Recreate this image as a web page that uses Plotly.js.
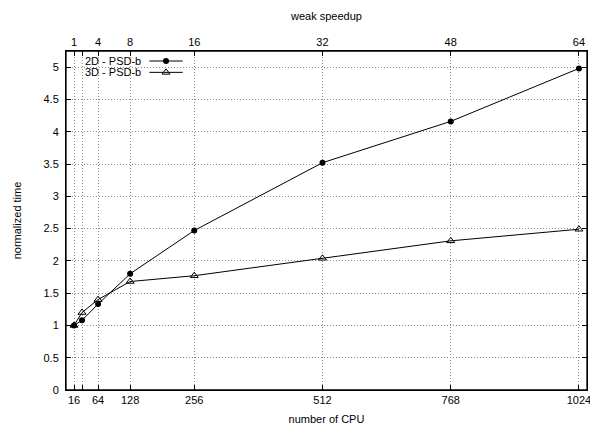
<!DOCTYPE html>
<html>
<head>
<meta charset="utf-8">
<script src="https://cdn.plot.ly/plotly-3.0.1.min.js"></script>
<style>html,body{margin:0;padding:0;background:#fff}#chart{width:590px;height:427px}</style>
</head>
<body>
<div id="chart"></div>
<script>
// Data
const cpus = [16, 32, 64, 128, 256, 512, 768, 1024];
const time2D = [1.0, 1.08, 1.33, 1.80, 2.47, 3.52, 4.16, 4.98];
const time3D = [1.0, 1.20, 1.40, 1.68, 1.77, 2.04, 2.31, 2.49];
const seriesNames = ['2D - PSD-b', '3D - PSD-b'];
const bottomTickVals = [16, 32, 64, 128, 256, 512, 768, 1024];
const bottomTickText = ['16', '', '64', '128', '256', '512', '768', '1024'];
const topTickText = ['1', '', '4', '8', '16', '32', '48', '64'];
const yTickVals = [0, 0.5, 1, 1.5, 2, 2.5, 3, 3.5, 4, 4.5, 5];

const font = {family: 'Liberation Sans, Arial, sans-serif', size: 11, color: '#000'};
const gridColor = '#8a8a8a';
const gridDash = '1px,2px';

const traces = [
  {x: cpus, y: time2D, name: seriesNames[0], type: 'scatter', mode: 'lines+markers',
   line: {color: '#000', width: 1}, marker: {symbol: 'circle', size: 6, color: '#000'}},
  {x: cpus, y: time3D, name: seriesNames[1], type: 'scatter', mode: 'lines+markers',
   line: {color: '#000', width: 1}, marker: {symbol: 'triangle-up-open', size: 7, color: '#000', line: {width: 1, color: '#000'}}},
  {x: cpus, y: time2D, xaxis: 'x2', yaxis: 'y', type: 'scatter', mode: 'none', showlegend: false, hoverinfo: 'skip'}
];

const axisCommon = {
  range: [0, 1040], tickmode: 'array', tickvals: bottomTickVals,
  ticks: 'inside', ticklen: 5, tickcolor: '#000', tickwidth: 1,
  showline: true, linecolor: '#000', linewidth: 1,
  zeroline: false, tickfont: font, ticklabeloverflow: 'allow'
};

const layout = {
  width: 590, height: 427,
  margin: {l: 66, r: 3, t: 51, b: 37},
  paper_bgcolor: '#fff', plot_bgcolor: '#fff',
  font: font,
  showlegend: false,
  xaxis: Object.assign({}, axisCommon, {
    ticktext: bottomTickText, side: 'bottom',
    showgrid: true, gridcolor: gridColor, griddash: gridDash, gridwidth: 1,
    title: {text: 'number of CPU', font: font, standoff: 10}
  }),
  xaxis2: Object.assign({}, axisCommon, {
    ticktext: topTickText, side: 'top', overlaying: 'x',
    showgrid: false,
    title: {text: 'weak speedup', font: font, standoff: 12}
  }),
  yaxis: {
    range: [0, 5.25], tickmode: 'array', tickvals: yTickVals,
    ticks: 'inside', ticklen: 5, tickcolor: '#000', tickwidth: 1,
    showline: true, linecolor: '#000', linewidth: 1, mirror: 'ticks',
    showgrid: true, gridcolor: gridColor, griddash: gridDash, gridwidth: 1,
    zeroline: false, tickfont: font, ticklabelstandoff: 4,
    title: {text: 'normalized time', font: font, standoff: 19}
  },
  shapes: [
    {type: 'rect', xref: 'paper', yref: 'paper', x0: 0.002, x1: 0.238, y0: 0.914, y1: 0.998, fillcolor: '#fff', line: {width: 0}, layer: 'between'},
    {type: 'rect', xref: 'paper', yref: 'paper', x0: 0, x1: 1, y0: 0, y1: 1, line: {color: '#000', width: 1.3}, layer: 'above'},
    {type: 'line', xref: 'paper', yref: 'paper', x0: 0.160, x1: 0.224, y0: 0.9705, y1: 0.9705, line: {color: '#000', width: 1}},
    {type: 'line', xref: 'paper', yref: 'paper', x0: 0.160, x1: 0.224, y0: 0.937, y1: 0.937, line: {color: '#000', width: 1}}
  ],
  annotations: [
    {xref: 'paper', yref: 'paper', x: 0.147, y: 0.9705, xanchor: 'right', yanchor: 'middle', text: seriesNames[0], showarrow: false, font: font},
    {xref: 'paper', yref: 'paper', x: 0.147, y: 0.937, xanchor: 'right', yanchor: 'middle', text: seriesNames[1], showarrow: false, font: font}
  ]
};

// Legend sample markers on an invisible overlay axis spanning the plot area
traces.push({x: [0.192], y: [0.9705], xaxis: 'x3', yaxis: 'y3', type: 'scatter', mode: 'markers', showlegend: false, hoverinfo: 'skip',
  marker: {symbol: 'circle', size: 6, color: '#000'}});
traces.push({x: [0.192], y: [0.937], xaxis: 'x3', yaxis: 'y3', type: 'scatter', mode: 'markers', showlegend: false, hoverinfo: 'skip',
  marker: {symbol: 'triangle-up-open', size: 7, color: '#000', line: {width: 1, color: '#000'}}});
layout.xaxis3 = {range: [0, 1], visible: false, overlaying: 'x', anchor: 'y3', fixedrange: true};
layout.yaxis3 = {range: [0, 1], visible: false, overlaying: 'y', anchor: 'x3', fixedrange: true};

Plotly.newPlot('chart', traces, layout, {staticPlot: true, displayModeBar: false});
</script>
</body>
</html>
